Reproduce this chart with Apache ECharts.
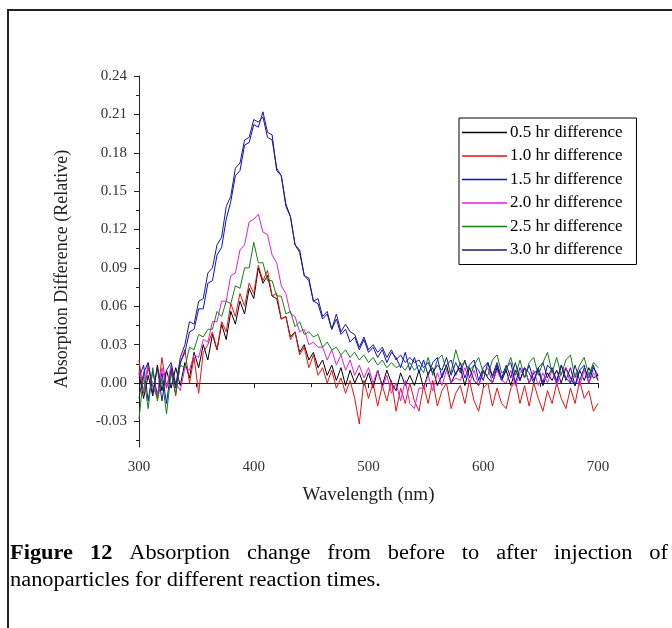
<!DOCTYPE html>
<html>
<head>
<meta charset="utf-8">
<script src="https://cdn.jsdelivr.net/npm/echarts@6/dist/echarts.min.js"></script>
<style>html,body{margin:0;padding:0;background:#fff}#chart{width:672px;height:628px}</style>
</head>
<body>
<div id="chart"></div>
<script>
// wavelength samples (nm)
var wavelengths = [
  300,304,308,312,316,320,324,328,332,336,
  340,344,348,352,356,360,364,368,372,376,
  380,384,388,392,396,400,404,408,412,416,
  420,424,428,432,436,440,444,448,452,456,
  460,464,468,472,476,480,484,488,492,496,
  500,504,508,512,516,520,524,528,532,536,
  540,544,548,552,556,560,564,568,572,576,
  580,584,588,592,596,600,604,608,612,616,
  620,624,628,632,636,640,644,648,652,656,
  660,664,668,672,676,680,684,688,692,696,
  700
];

var hr05 = [
  0.008,-0.012,0.006,-0.010,0.014,-0.006,0.010,-0.004,0.012,-0.002,
  0.016,0.004,0.024,0.012,0.030,0.018,0.038,0.026,0.046,0.034,
  0.056,0.046,0.064,0.054,0.074,0.066,0.090,0.078,0.084,0.068,
  0.066,0.050,0.052,0.036,0.040,0.024,0.030,0.018,0.024,0.012,
  0.018,0.006,0.014,0.002,0.012,-0.002,0.010,0.000,0.008,-0.002,
  0.008,-0.004,0.010,-0.002,0.010,0.000,-0.006,0.008,-0.002,0.006,
  -0.002,0.010,-0.004,0.008,0.012,-0.002,0.006,0.014,0.000,0.008,
  0.012,-0.002,0.012,0.002,-0.002,0.010,0.004,0.000,0.012,0.002,
  0.010,-0.002,0.010,0.002,0.012,0.000,0.008,0.010,-0.002,0.008,
  0.002,0.010,0.000,0.012,0.004,-0.002,0.010,0.002,0.012,0.004,
  0.006
];

var hr10 = [
  0.018,-0.008,0.012,-0.002,-0.012,0.020,-0.004,0.010,-0.010,0.016,
  0.026,0.000,0.020,-0.008,0.024,0.030,0.040,0.026,0.048,0.040,
  0.062,0.052,0.070,0.060,0.078,0.070,0.092,0.080,0.088,0.068,
  0.070,0.050,0.052,0.034,0.040,0.022,0.028,0.012,0.022,0.006,
  0.012,0.000,0.010,-0.004,0.004,-0.008,0.002,-0.012,-0.032,0.002,
  -0.012,0.000,-0.018,-0.002,-0.014,0.002,-0.022,-0.004,-0.016,0.000,
  -0.014,-0.022,-0.002,-0.016,0.002,-0.018,-0.006,0.000,-0.020,-0.008,
  -0.002,-0.016,0.002,-0.014,-0.022,-0.004,0.000,-0.018,-0.004,-0.016,
  -0.020,-0.004,0.002,-0.016,-0.002,-0.018,0.000,-0.012,-0.022,-0.006,
  -0.016,0.000,-0.012,-0.020,-0.004,-0.016,0.002,-0.012,-0.006,-0.022,
  -0.016
];

var hr15 = [
  0.004,0.014,-0.014,0.010,-0.010,0.008,-0.016,0.012,-0.004,0.016,
  0.024,0.040,0.042,0.058,0.058,0.078,0.080,0.100,0.106,0.128,
  0.142,0.162,0.166,0.186,0.188,0.202,0.200,0.212,0.196,0.194,
  0.166,0.162,0.140,0.130,0.108,0.104,0.084,0.082,0.064,0.062,
  0.050,0.054,0.042,0.050,0.038,0.042,0.032,0.036,0.026,0.034,
  0.024,0.028,0.020,0.026,0.016,0.024,0.020,0.012,0.024,0.010,
  0.020,0.008,0.018,0.006,0.016,0.020,0.004,0.014,0.018,0.006,
  0.016,0.004,0.014,0.018,0.002,0.012,0.016,0.004,0.014,0.002,
  0.012,0.016,0.000,0.012,0.004,0.014,0.002,0.012,0.000,0.014,
  0.010,0.000,0.014,0.002,0.012,-0.002,0.010,0.014,0.000,0.012,
  0.006
];

var hr20 = [
  0.010,-0.006,0.016,-0.002,-0.010,0.012,-0.004,0.014,0.000,-0.006,
  0.012,0.010,0.022,0.020,0.034,0.032,0.048,0.048,0.064,0.064,
  0.084,0.086,0.104,0.108,0.126,0.128,0.132,0.118,0.116,0.100,
  0.094,0.076,0.070,0.054,0.052,0.040,0.042,0.030,0.032,0.028,
  0.028,0.018,0.026,0.014,0.022,0.010,0.018,0.006,0.014,0.004,
  0.012,0.000,0.010,-0.004,0.006,-0.008,0.000,-0.014,0.002,-0.016,
  -0.020,-0.004,-0.004,0.006,-0.006,0.008,-0.002,0.010,0.000,0.004,
  0.002,0.012,0.000,0.010,-0.002,0.008,0.012,0.000,0.010,0.002,
  0.000,0.010,-0.002,0.008,0.012,0.000,0.010,-0.002,0.008,0.000,
  0.010,-0.002,0.008,0.012,0.000,0.008,-0.002,0.010,0.000,0.008,
  0.002
];

var hr25 = [
  -0.028,0.006,-0.020,0.012,-0.014,0.004,-0.024,0.008,-0.008,0.014,
  0.012,0.028,0.026,0.038,0.036,0.042,0.042,0.056,0.052,0.064,
  0.062,0.076,0.074,0.090,0.090,0.110,0.094,0.094,0.080,0.080,
  0.068,0.068,0.054,0.056,0.044,0.048,0.038,0.040,0.036,0.038,
  0.028,0.032,0.026,0.028,0.022,0.026,0.020,0.024,0.018,0.022,
  0.016,0.020,0.014,0.018,0.012,0.016,0.012,0.014,0.010,0.016,
  0.010,0.014,0.008,0.020,0.006,0.018,0.022,0.010,0.008,0.026,
  0.014,0.016,0.010,0.014,0.020,0.008,0.006,0.018,0.022,0.008,
  0.010,0.020,0.006,0.018,0.004,0.016,0.020,0.006,0.016,0.024,
  0.008,0.020,0.006,0.018,0.022,0.004,0.014,0.020,0.006,0.016,
  0.012
];

var hr30 = [
  -0.012,0.008,0.016,-0.008,0.012,-0.014,0.010,0.016,-0.002,0.020,
  0.030,0.048,0.046,0.064,0.066,0.086,0.090,0.108,0.114,0.138,
  0.146,0.168,0.172,0.190,0.192,0.206,0.204,0.208,0.192,0.190,
  0.168,0.162,0.138,0.130,0.108,0.102,0.084,0.080,0.064,0.066,
  0.052,0.056,0.042,0.054,0.040,0.046,0.040,0.038,0.028,0.036,
  0.026,0.030,0.024,0.028,0.020,0.026,0.018,0.022,0.016,0.020,
  0.016,0.018,0.012,0.016,0.008,0.014,0.010,0.020,0.006,0.016,
  0.008,0.018,0.004,0.014,0.010,0.002,0.016,0.006,0.016,0.004,
  0.014,0.004,0.016,0.002,0.012,0.008,0.000,0.012,0.016,0.004,
  0.012,0.002,0.014,0.004,0.000,0.014,0.002,0.012,0.004,0.014,
  0.002
];

var seriesNames = ['0.5 hr difference', '1.0 hr difference', '1.5 hr difference',
                   '2.0 hr difference', '2.5 hr difference', '3.0 hr difference'];
var seriesValues = [hr05, hr10, hr15, hr20, hr25, hr30];
var seriesColors = ['#000000', '#e81212', '#0a0ae0', '#e21ee2', '#138013', '#1e1e78'];

var yTickValues = [-0.03, 0, 0.03, 0.06, 0.09, 0.12, 0.15, 0.18, 0.21, 0.24];
var yMinorValues = [-0.045, -0.015, 0.015, 0.045, 0.075, 0.105, 0.135, 0.165, 0.195, 0.225];

var yTitle = 'Absorption Difference (Relative)';
var captionLine1 = [['Figure', true], ['12', true], ['Absorption', false], ['change', false],
  ['from', false], ['before', false], ['to', false], ['after', false], ['injection', false], ['of', false]];
var captionLine2 = 'nanoparticles for different reaction times.';

var serif = '"Liberation Serif", "Times New Roman", serif';
var myChart = echarts.init(document.getElementById('chart'));

// caption: glyphs in the reference are a bit wider than Liberation Serif, so stretch them
var capSize = 20, capStretch = 1.12;
var ctx = document.createElement('canvas').getContext('2d');
function wordWidth(t, bold) {
    ctx.font = (bold ? 'bold ' : '') + capSize + 'px "Liberation Serif"';
    return ctx.measureText(t).width * capStretch;
}
var capLeft = 10, capRight = 668;
var total = 0;
captionLine1.forEach(function (w) { total += wordWidth(w[0], w[1]); });
var gap = (capRight - capLeft - total) / (captionLine1.length - 1);
var graphics = [];
var cx = capLeft;
captionLine1.forEach(function (w) {
    graphics.push({
        type: 'text', x: cx, y: 554, scaleX: capStretch,
        style: { text: w[0], font: (w[1] ? 'bold ' : '') + capSize + 'px ' + serif, fill: '#000', verticalAlign: 'middle' }
    });
    cx += wordWidth(w[0], w[1]) + gap;
});
graphics.push({
    type: 'text', x: capLeft, y: 581, scaleX: capStretch,
    style: { text: captionLine2, font: capSize + 'px ' + serif, fill: '#000', verticalAlign: 'middle' }
});
// y axis title sits a little below the plot's middle in the reference
graphics.push({
    type: 'text', x: 62, y: 269, rotation: Math.PI / 2,
    style: { text: yTitle, font: '18px ' + serif, fill: '#222', align: 'center', verticalAlign: 'middle' }
});
graphics.push({
    type: 'rect', shape: { x: 8, y: 10, width: 700, height: 700 },
    style: { fill: 'none', stroke: '#222', lineWidth: 2 }
});

var series = seriesValues.map(function (vals, k) {
    return {
        name: seriesNames[k],
        type: 'line',
        symbol: 'none',
        showSymbol: false,
        color: seriesColors[k],
        lineStyle: { width: 1, color: seriesColors[k] },
        data: wavelengths.map(function (w, i) { return [w, vals[i]]; })
    };
});

var option = {
    animation: false,
    backgroundColor: '#fff',
    grid: { left: 139, right: 74, top: 76, bottom: 181 },
    legend: {
        orient: 'vertical',
        left: 459, top: 118,
        data: seriesNames,
        icon: 'rect',
        itemWidth: 45, itemHeight: 1.5, itemGap: 6.5,
        padding: [6, 14, 6, 3],
        borderColor: '#000', borderWidth: 1,
        textStyle: { fontFamily: serif, fontSize: 17, lineHeight: 17, color: '#000', padding: [0, 0, 0, -2] }
    },
    xAxis: {
        type: 'value', min: 300, max: 700, interval: 100,
        name: 'Wavelength (nm)', nameLocation: 'middle', nameGap: 39,
        nameTextStyle: { fontFamily: serif, fontSize: 19, color: '#222' },
        axisLine: { lineStyle: { color: '#222', width: 1 } },
        axisTick: { length: 5, lineStyle: { color: '#222' } },
        minorTick: { show: true, splitNumber: 2, length: 4, lineStyle: { color: '#222' } },
        axisLabel: { fontFamily: serif, fontSize: 15, color: '#333', margin: 13 },
        splitLine: { show: false }
    },
    yAxis: [{
        type: 'value', min: -0.05, max: 0.24,
        axisLine: { show: true, lineStyle: { color: '#222', width: 1 } },
        axisTick: { show: true, length: 5, customValues: yTickValues, lineStyle: { color: '#222' } },
        axisLabel: {
            customValues: yTickValues, fontFamily: serif, fontSize: 15, color: '#333', margin: 12,
            formatter: function (v) { return v.toFixed(2); }
        },
        splitLine: { show: false }
    }, {
        type: 'value', min: -0.05, max: 0.24, position: 'left',
        axisLine: { show: false },
        axisTick: { show: true, length: 3, customValues: yMinorValues, lineStyle: { color: '#222' } },
        axisLabel: { show: false },
        splitLine: { show: false }
    }],
    graphic: graphics,
    series: series
};
myChart.setOption(option);
</script>
</body>
</html>
